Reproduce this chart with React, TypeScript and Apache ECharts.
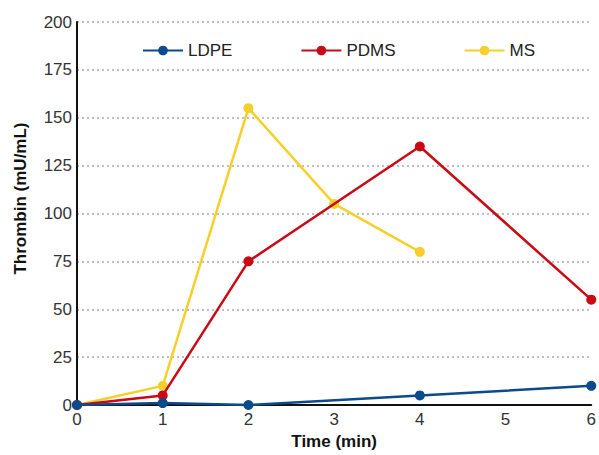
import React, { useEffect, useRef } from "react";
import * as echarts from "echarts";

const seriesNames = ["LDPE", "PDMS", "MS"];
const ldpe: [number, number][] = [[0, 0], [1, 1], [2, 0], [4, 5], [6, 10]];
const pdms: [number, number][] = [[0, 0], [1, 5], [2, 75], [4, 135], [6, 55]];
const ms: [number, number][] = [[0, 0], [1, 10], [2, 155], [3, 105], [4, 80]];
const colors = ["#0b4a8c", "#c90a14", "#f7cf2a"];

export default function App() {
  const ref = useRef<HTMLDivElement>(null);
  useEffect(() => {
    if (!ref.current) return;
    const chart = echarts.init(ref.current, undefined, { renderer: "svg" });
    const font = "Liberation Sans, Arial, sans-serif";
    const mk = (name: string, data: [number, number][], color: string, z: number) => ({
      name,
      type: "line",
      data,
      z,
      clip: false,
      symbol: "circle",
      symbolSize: 10,
      lineStyle: { color, width: 2.5 },
      itemStyle: { color },
    });
    chart.setOption({
      animation: false,
      backgroundColor: "#ffffff",
      textStyle: { fontFamily: font },
      legend: {
        left: 137,
        top: 37,
        itemWidth: 40,
        itemHeight: 12,
        itemGap: 68,
        textStyle: { fontSize: 17, color: "#222", fontFamily: font },
        data: seriesNames,
      },
      grid: { left: 77, right: 4, top: 22, bottom: 49, containLabel: false },
      xAxis: {
        type: "value",
        min: 0,
        max: 6,
        interval: 1,
        name: "Time (min)",
        nameLocation: "middle",
        nameGap: 28,
        nameTextStyle: { fontSize: 17, fontWeight: "bold", color: "#111", fontFamily: font, padding: [0, 0, 0, 0] },
        axisLine: { lineStyle: { color: "#111", width: 2 } },
        axisTick: { show: false },
        axisLabel: { fontSize: 17, color: "#333", margin: 6, fontFamily: font },
        splitLine: { show: false },
      },
      yAxis: {
        type: "value",
        min: 0,
        max: 200,
        interval: 25,
        name: "Thrombin (mU/mL)",
        nameLocation: "middle",
        nameGap: 48,
        nameTextStyle: { fontSize: 17, fontWeight: "bold", color: "#111", fontFamily: font, padding: [0, 0, 0, 30] },
        axisLine: { show: true, lineStyle: { color: "#111", width: 2 } },
        axisTick: { show: false },
        axisLabel: { fontSize: 17, color: "#333", margin: 5, fontFamily: font },
        splitLine: { show: true, lineStyle: { color: "#aaaaaa", width: 1.5, type: [2, 3] } },
      },
      series: [
        mk("LDPE", ldpe, colors[0], 5),
        mk("PDMS", pdms, colors[1], 3),
        mk("MS", ms, colors[2], 2),
      ],
    });
    return () => chart.dispose();
  }, []);
  return <div ref={ref} style={{ width: 599, height: 455, position: "absolute", left: 0, top: 0 }} />;
}
